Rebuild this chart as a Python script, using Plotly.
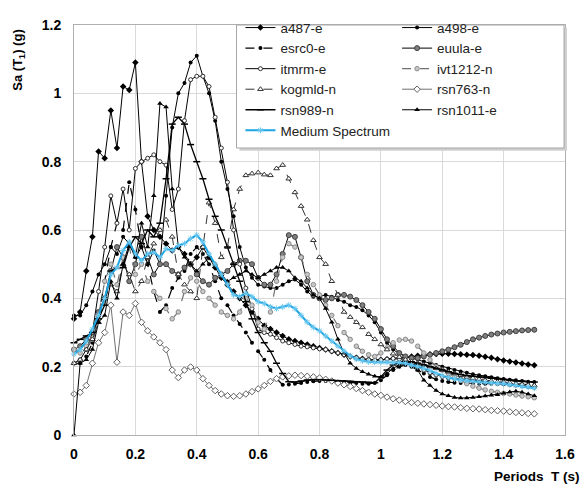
import plotly.graph_objects as go

periods = [0.00, 0.02, 0.04, 0.06, 0.08, 0.10, 0.12, 0.14, 0.16, 0.18,
           0.20, 0.22, 0.24, 0.26, 0.28, 0.30, 0.32, 0.34, 0.36, 0.38,
           0.40, 0.42, 0.44, 0.46, 0.48, 0.50, 0.52, 0.54, 0.56, 0.58,
           0.60, 0.62, 0.64, 0.66, 0.68, 0.70, 0.72, 0.74, 0.76, 0.78,
           0.80, 0.82, 0.84, 0.86, 0.88, 0.90, 0.92, 0.94, 0.96, 0.98,
           1.00, 1.02, 1.04, 1.06, 1.08, 1.10, 1.12, 1.14, 1.16, 1.18,
           1.20, 1.22, 1.24, 1.26, 1.28, 1.30, 1.32, 1.34, 1.36, 1.38,
           1.40, 1.42, 1.44, 1.46, 1.48, 1.50]

a487_e = [0.34, 0.36, 0.48, 0.58, 0.83, 0.81, 0.95, 0.84, 1.02, 1.01,
          1.09, 0.80, 0.64, 0.60, 0.58, 0.56, 0.54, 0.55, 0.53, 0.50,
          0.52, 0.55, 0.52, 0.49, 0.46, 0.44, 0.42, 0.40, 0.38, 0.36,
          0.34, 0.32, 0.31, 0.30, 0.29, 0.28, 0.275, 0.27, 0.265, 0.26,
          0.255, 0.25, 0.245, 0.24, 0.235, 0.23, 0.226, 0.223, 0.22, 0.219,
          0.22, 0.222, 0.224, 0.226, 0.228, 0.23, 0.232, 0.234, 0.236, 0.237,
          0.238, 0.238, 0.237, 0.236, 0.235, 0.234, 0.232, 0.229, 0.226, 0.222,
          0.218, 0.215, 0.212, 0.209, 0.206, 0.204]

a498_e = [0.35, 0.35, 0.38, 0.42, 0.47, 0.50, 0.55, 0.53, 0.58, 0.56,
          0.52, 0.55, 0.50, 0.54, 0.50, 0.70, 0.90, 1.00, 1.03, 1.09,
          1.11, 1.05, 1.00, 0.92, 0.80, 0.72, 0.64, 0.55, 0.49, 0.46,
          0.44, 0.435, 0.43, 0.43, 0.44, 0.45, 0.455, 0.44, 0.42, 0.405,
          0.405, 0.41, 0.405, 0.395, 0.39, 0.38, 0.375, 0.365, 0.35, 0.33,
          0.30, 0.27, 0.25, 0.238, 0.23, 0.224, 0.22, 0.215, 0.21, 0.205,
          0.20, 0.195, 0.19, 0.186, 0.182, 0.178, 0.175, 0.172, 0.169, 0.166,
          0.164, 0.162, 0.16, 0.158, 0.156, 0.155]

esrc0_e = [0.21, 0.21, 0.23, 0.27, 0.35, 0.45, 0.55, 0.62, 0.60, 0.74,
           0.66, 0.55, 0.50, 0.42, 0.36, 0.38, 0.43, 0.46, 0.48, 0.53,
           0.55, 0.53, 0.50, 0.45, 0.40, 0.38, 0.35, 0.325, 0.30, 0.27,
           0.245, 0.22, 0.19, 0.165, 0.147, 0.148, 0.15, 0.152, 0.155, 0.157,
           0.158, 0.158, 0.157, 0.156, 0.155, 0.154, 0.152, 0.15, 0.15, 0.152,
           0.16, 0.175, 0.19, 0.20, 0.205, 0.20, 0.19, 0.18, 0.17, 0.163,
           0.158, 0.155, 0.153, 0.152, 0.151, 0.15, 0.15, 0.15, 0.15, 0.15,
           0.15, 0.15, 0.149, 0.148, 0.147, 0.145]

euula_e = [0.25, 0.26, 0.28, 0.30, 0.36, 0.40, 0.48, 0.55, 0.52, 0.45,
           0.50, 0.58, 0.52, 0.47, 0.50, 0.50, 0.48, 0.47, 0.49, 0.50,
           0.47, 0.45, 0.44, 0.46, 0.47, 0.48, 0.50, 0.51, 0.51, 0.50,
           0.46, 0.44, 0.44, 0.47, 0.53, 0.585, 0.58, 0.52, 0.45, 0.41,
           0.40, 0.395, 0.40, 0.41, 0.41, 0.405, 0.395, 0.38, 0.36, 0.34,
           0.31, 0.28, 0.26, 0.24, 0.23, 0.225, 0.225, 0.23, 0.235, 0.24,
           0.245, 0.25, 0.257, 0.264, 0.272, 0.28, 0.285, 0.29, 0.294, 0.297,
           0.30, 0.302, 0.304, 0.306, 0.307, 0.308]

itmrm_e = [0.21, 0.22, 0.25, 0.30, 0.42, 0.55, 0.70, 0.62, 0.72, 0.60,
           0.78, 0.80, 0.81, 0.82, 0.80, 0.79, 0.66, 0.72, 0.92, 1.04,
           1.05, 1.05, 1.02, 0.93, 0.84, 0.74, 0.60, 0.50, 0.43, 0.37,
           0.31, 0.30, 0.295, 0.285, 0.275, 0.27, 0.265, 0.26, 0.258, 0.255,
           0.252, 0.25, 0.245, 0.24, 0.235, 0.23, 0.226, 0.222, 0.22, 0.219,
           0.22, 0.222, 0.224, 0.222, 0.218, 0.21, 0.20, 0.19, 0.182, 0.176,
           0.171, 0.168, 0.166, 0.164, 0.162, 0.16, 0.158, 0.156, 0.154, 0.152,
           0.15, 0.148, 0.146, 0.144, 0.142, 0.14]

ivt1212_n = [0.25, 0.24, 0.26, 0.28, 0.35, 0.45, 0.50, 0.44, 0.52, 0.55,
             0.47, 0.50, 0.45, 0.42, 0.40, 0.37, 0.34, 0.36, 0.42, 0.46,
             0.45, 0.42, 0.40, 0.38, 0.36, 0.35, 0.34, 0.36, 0.40, 0.38,
             0.33, 0.31, 0.36, 0.45, 0.52, 0.56, 0.55, 0.52, 0.47, 0.44,
             0.41, 0.38, 0.35, 0.32, 0.30, 0.28, 0.26, 0.245, 0.235, 0.23,
             0.24, 0.255, 0.27, 0.278, 0.28, 0.275, 0.26, 0.24, 0.22, 0.20,
             0.19, 0.18, 0.17, 0.16, 0.15, 0.143, 0.137, 0.132, 0.128, 0.125,
             0.122, 0.12, 0.117, 0.114, 0.112, 0.109]

kogmld_n = [0.21, 0.22, 0.25, 0.28, 0.33, 0.40, 0.44, 0.42, 0.50, 0.47,
            0.42, 0.45, 0.52, 0.56, 0.60, 0.63, 0.58, 0.47, 0.44, 0.42,
            0.40, 0.55, 0.68, 0.62, 0.52, 0.55, 0.66, 0.72, 0.76, 0.765,
            0.768, 0.762, 0.76, 0.78, 0.79, 0.75, 0.71, 0.67, 0.63, 0.57,
            0.52, 0.50, 0.45, 0.41, 0.36, 0.345, 0.33, 0.315, 0.295, 0.28,
            0.265, 0.25, 0.238, 0.228, 0.22, 0.215, 0.21, 0.205, 0.20, 0.195,
            0.19, 0.185, 0.18, 0.175, 0.17, 0.166, 0.163, 0.16, 0.158, 0.156,
            0.155, 0.153, 0.15, 0.148, 0.146, 0.145]

rsn763_n = [0.12, 0.125, 0.145, 0.21, 0.27, 0.30, 0.38, 0.213, 0.36, 0.35,
            0.385, 0.33, 0.305, 0.287, 0.27, 0.25, 0.19, 0.168, 0.19, 0.199,
            0.19, 0.165, 0.145, 0.13, 0.12, 0.115, 0.113, 0.115, 0.12, 0.127,
            0.135, 0.145, 0.157, 0.165, 0.17, 0.173, 0.175, 0.174, 0.172, 0.17,
            0.167, 0.163, 0.158, 0.152, 0.147, 0.142, 0.136, 0.13, 0.125, 0.12,
            0.116, 0.111, 0.106, 0.102, 0.098, 0.095, 0.093, 0.091, 0.089, 0.087,
            0.085, 0.083, 0.082, 0.08, 0.078, 0.077, 0.076, 0.074, 0.072, 0.071,
            0.07, 0.068, 0.066, 0.065, 0.063, 0.062]

rsn989_n = [0.27, 0.28, 0.29, 0.30, 0.34, 0.38, 0.48, 0.49, 0.49, 0.55,
            0.58, 0.56, 0.60, 0.58, 0.62, 0.75, 0.91, 0.93, 0.91, 0.85,
            0.80, 0.75, 0.69, 0.64, 0.60, 0.55, 0.50, 0.45, 0.39, 0.34,
            0.30, 0.27, 0.245, 0.21, 0.18, 0.156, 0.155, 0.158, 0.161, 0.162,
            0.162, 0.161, 0.16, 0.159, 0.158, 0.157, 0.156, 0.155, 0.154, 0.153,
            0.17, 0.19, 0.205, 0.213, 0.215, 0.214, 0.21, 0.205, 0.20, 0.195,
            0.19, 0.185, 0.18, 0.177, 0.174, 0.172, 0.17, 0.168, 0.166, 0.164,
            0.162, 0.16, 0.158, 0.157, 0.156, 0.155]

rsn1011_e = [0.0, 0.21, 0.22, 0.25, 0.33, 0.35, 0.45, 0.40, 0.50, 0.56,
             0.52, 0.62, 0.55, 0.70, 0.97, 0.96, 0.72, 0.55, 0.52, 0.50,
             0.48, 0.50, 0.52, 0.50, 0.47, 0.45, 0.46, 0.47, 0.48, 0.47,
             0.46, 0.47, 0.48, 0.49, 0.49, 0.48, 0.46, 0.45, 0.43, 0.41,
             0.40, 0.37, 0.33, 0.28, 0.24, 0.21, 0.195, 0.185, 0.178, 0.172,
             0.17, 0.18, 0.195, 0.205, 0.21, 0.205, 0.19, 0.16, 0.145, 0.13,
             0.12, 0.115, 0.11, 0.108, 0.108, 0.11, 0.112, 0.114, 0.116, 0.118,
             0.122, 0.126, 0.128, 0.125, 0.12, 0.115]

medium_spectrum = [0.237, 0.25, 0.275, 0.31, 0.35, 0.40, 0.47, 0.49, 0.54, 0.565,
                   0.53, 0.51, 0.53, 0.535, 0.52, 0.545, 0.54, 0.555, 0.56, 0.575,
                   0.585, 0.565, 0.53, 0.50, 0.47, 0.44, 0.41, 0.405, 0.415, 0.405,
                   0.39, 0.385, 0.375, 0.37, 0.375, 0.38, 0.37, 0.35, 0.33, 0.315,
                   0.305, 0.29, 0.275, 0.26, 0.245, 0.232, 0.222, 0.217, 0.214, 0.213,
                   0.213, 0.213, 0.212, 0.212, 0.21, 0.204, 0.20, 0.195, 0.188, 0.18,
                   0.174, 0.168, 0.164, 0.161, 0.159, 0.157, 0.155, 0.154, 0.152, 0.151,
                   0.15, 0.147, 0.145, 0.142, 0.14, 0.137]

FONT = "Liberation Sans, Arial, sans-serif"
BLUE = "#1EA4E2"

series = [
    ("a487-e", a487_e, dict(color="black", width=1), dict(symbol="diamond", size=5, color="black"), "legend"),
    ("a498-e", a498_e, dict(color="black", width=1), dict(symbol="circle", size=4, color="black"), "legend2"),
    ("esrc0-e", esrc0_e, dict(color="black", width=1.2, dash="dash"), dict(symbol="circle", size=4, color="black"), "legend"),
    ("euula-e", euula_e, dict(color="black", width=1), dict(symbol="circle", size=5, color="#7f7f7f", line=dict(color="#404040", width=1)), "legend2"),
    ("itmrm-e", itmrm_e, dict(color="black", width=1), dict(symbol="circle", size=4, color="white", line=dict(color="#333333", width=1)), "legend"),
    ("ivt1212-n", ivt1212_n, dict(color="#707070", width=1.2, dash="dash"), dict(symbol="circle", size=4.5, color="#c8c8c8", line=dict(color="#8a8a8a", width=1)), "legend2"),
    ("kogmld-n", kogmld_n, dict(color="#333333", width=1, dash="dash"), dict(symbol="triangle-up", size=5, color="white", line=dict(color="#333333", width=1)), "legend"),
    ("rsn763-n", rsn763_n, dict(color="#707070", width=1), dict(symbol="diamond", size=5, color="white", line=dict(color="#606060", width=1)), "legend2"),
    ("rsn989-n", rsn989_n, dict(color="black", width=1.3), dict(symbol="line-ew", size=5, color="black", line=dict(color="black", width=1.5)), "legend"),
    ("rsn1011-e", rsn1011_e, dict(color="black", width=1), dict(symbol="triangle-up", size=5, color="black"), "legend2"),
    ("Medium Spectrum", medium_spectrum, dict(color=BLUE, width=2), dict(symbol="asterisk-open", size=5, color="#6cc8f0", line=dict(color="#6cc8f0", width=1)), "legend"),
]

fig = go.Figure()
for name, vals, line, marker, leg in series:
    fig.add_trace(go.Scatter(
        x=periods, y=vals, name=name, mode="lines+markers",
        line=line, marker=marker, legend=leg, cliponaxis=False,
    ))

legend_common = dict(
    yanchor="top", y=1.031, xanchor="left",
    bgcolor="rgba(0,0,0,0)", borderwidth=0,
    font=dict(family=FONT, size=13.5, color="#222222"),
    traceorder="normal", itemwidth=30,
)

fig.update_layout(
    width=587, height=493,
    margin=dict(l=74, r=20, t=13, b=58),
    paper_bgcolor="white", plot_bgcolor="white",
    font=dict(family=FONT, size=13, color="black"),
    legend=dict(x=0.339, **legend_common),
    legend2=dict(x=0.658, **legend_common),
    xaxis=dict(
        range=[0, 1.6], tick0=0, dtick=0.2, showgrid=True, gridcolor="#D9D9D9",
        gridwidth=1, zeroline=False, showline=True, mirror=True, linecolor="#AFAFAF",
        linewidth=1, ticks="", ticklabelstandoff=6,
        tickfont=dict(family=FONT, size=14, color="black", weight="bold"),
    ),
    yaxis=dict(
        range=[0, 1.2], tick0=0, dtick=0.2, showgrid=True, gridcolor="#D9D9D9",
        gridwidth=1, zeroline=False, showline=True, mirror=True, linecolor="#AFAFAF",
        linewidth=1, ticks="", ticklabelstandoff=9,
        tickfont=dict(family=FONT, size=14, color="black", weight="bold"),
    ),
    shapes=[
        dict(type="rect", xref="paper", yref="paper", x0=0.337, x1=1.004, y0=0.693, y1=0.993,
             fillcolor="#cfcfcf", line=dict(width=0), layer="above"),
        dict(type="rect", xref="paper", yref="paper", x0=0.331, x1=0.998, y0=0.70, y1=1.0,
             fillcolor="white", line=dict(color="#A6A6A6", width=1), layer="above"),
    ],
    annotations=[
        dict(text="Sa (T<sub>1</sub>) (g)", xref="paper", yref="paper", x=-0.112, y=0.913,
             textangle=-90, showarrow=False, xanchor="center", yanchor="middle",
             font=dict(family=FONT, size=13, color="black", weight="bold")),
        dict(text="Periods\u00a0\u00a0T (s)", xref="paper", yref="paper", x=1.0345, y=-0.102,
             showarrow=False, xanchor="right", yanchor="middle",
             font=dict(family=FONT, size=13.5, color="black", weight="bold")),
    ],
)

fig.write_html("out.html")
